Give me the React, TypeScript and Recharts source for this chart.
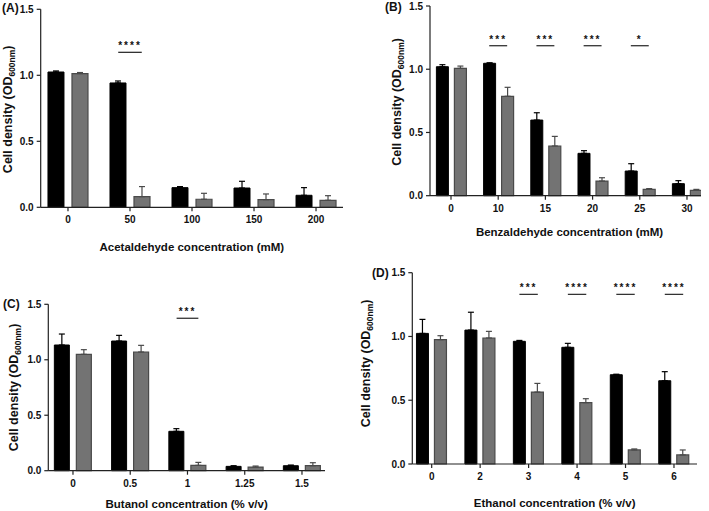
import { BarChart, Bar, XAxis, YAxis, ErrorBar, ReferenceLine } from "recharts";

// ---- data (OD600nm, mean + upper SD) ----
const acetLabels = ["0", "50", "100", "150", "200"];
const acetDark = [1.025, 0.942, 0.149, 0.146, 0.091];
const acetDarkSd = [0.008, 0.015, 0.008, 0.051, 0.058];
const acetLight = [1.013, 0.081, 0.061, 0.058, 0.053];
const acetLightSd = [0.008, 0.076, 0.045, 0.043, 0.035];
const acetSig = ["", "****", "", "", ""];
const acetSigLevel = 1.174;

const benzLabels = ["0", "10", "15", "20", "25", "30"];
const benzDark = [1.02, 1.047, 0.598, 0.335, 0.195, 0.095];
const benzDarkSd = [0.016, 0.004, 0.058, 0.021, 0.058, 0.024];
const benzLight = [1.007, 0.786, 0.393, 0.116, 0.05, 0.042];
const benzLightSd = [0.018, 0.071, 0.076, 0.026, 0.006, 0.008];
const benzSig = ["", "***", "***", "***", "*", ""];
const benzSigLevel = 1.186;

const butLabels = ["0", "0.5", "1", "1.25", "1.5"];
const butDark = [1.133, 1.169, 0.355, 0.039, 0.045];
const butDarkSd = [0.099, 0.051, 0.024, 0.006, 0.006];
const butLight = [1.049, 1.07, 0.048, 0.033, 0.045];
const butLightSd = [0.042, 0.06, 0.027, 0.009, 0.027];
const butSig = ["", "", "***", "", ""];
const butSigLevel = 1.374;

const ethLabels = ["0", "2", "3", "4", "5", "6"];
const ethDark = [1.024, 1.05, 0.962, 0.915, 0.7, 0.653];
const ethDarkSd = [0.11, 0.14, 0.007, 0.031, 0.004, 0.071];
const ethLight = [0.975, 0.988, 0.564, 0.481, 0.11, 0.071];
const ethLightSd = [0.031, 0.052, 0.068, 0.031, 0.008, 0.039];
const ethSig = ["", "", "***", "****", "****", "****"];
const ethSigLevel = 1.33;

const yTicks = [0, 0.5, 1, 1.5];

const FONT = "'Liberation Sans', Arial, Helvetica, sans-serif";
const AXIS = "#222";

function buildRows(dark: number[], darkSd: number[], light: number[], lightSd: number[]) {
  return dark.map((d, i) => ({
    idx: i,
    dark: d,
    darkErr: [0, darkSd[i]],
    light: light[i],
    lightErr: [0, lightSd[i]],
  }));
}

type PanelProps = {
  letter: string;
  xTitle: string;
  labels: string[];
  dark: number[];
  darkSd: number[];
  light: number[];
  lightSd: number[];
  sig: string[];
  sigLevel: number;
  left: number;
  top: number;
  width: number;
  height: number;
  plot: { l: number; t: number; b: number; r: number };
  domain: [number, number];
  barSize: number;
  barGap: number;
  yTitleDx: number;
  yTitleDy: number;
  xTitleDx: number;
  xTitleDy: number;
  letterPos: [number, number];
};

const Y_AXIS_W = 30;
const X_AXIS_H = 30;

function Panel(p: PanelProps) {
  const rows = buildRows(p.dark, p.darkSd, p.light, p.lightSd);
  const margin = {
    top: p.plot.t,
    left: p.plot.l - Y_AXIS_W,
    right: p.width - p.plot.r,
    bottom: p.height - p.plot.b - X_AXIS_H,
  };
  const ticks = p.labels.map((_, i) => i);

  const yLabel = (props: any) => {
    const vb = props.viewBox;
    const axisX = vb.x + vb.width;
    const cx = axisX + p.yTitleDx;
    const cy = p.plot.t + (p.plot.b - p.plot.t) / 2 + p.yTitleDy;
    return (
      <g>
        <text
          x={cx}
          y={cy}
          transform={`rotate(-90, ${cx}, ${cy})`}
          textAnchor="middle"
          fontFamily={FONT}
          fontWeight="bold"
          fontSize={12.5}
          fill="#111"
        >
          Cell density (OD
          <tspan dy={3} fontSize={8.5}>600nm</tspan>
          <tspan dy={-3}>)</tspan>
        </text>
        <text
          x={p.letterPos[0]}
          y={p.letterPos[1]}
          fontFamily={FONT}
          fontWeight="bold"
          fontSize={12}
          fill="#111"
        >
          {p.letter}
        </text>
      </g>
    );
  };

  const xLabel = (props: any) => {
    const vb = props.viewBox;
    return (
      <text
        x={vb.x + vb.width / 2 + p.xTitleDx}
        y={vb.y + p.xTitleDy}
        textAnchor="middle"
        dominantBaseline="central"
        fontFamily={FONT}
        fontWeight="bold"
        fontSize={11.5}
        fill="#111"
      >
        {p.xTitle}
      </text>
    );
  };

  return (
    <div style={{ position: "absolute", left: p.left, top: p.top }}>
      <BarChart
        width={p.width}
        height={p.height}
        data={rows}
        margin={margin}
        barSize={p.barSize}
        barGap={p.barGap}
      >
        <XAxis
          dataKey="idx"
          type="number"
          domain={p.domain}
          ticks={ticks}
          allowDataOverflow
          height={X_AXIS_H}
          tickFormatter={(v: number) => p.labels[v] ?? ""}
          tick={{ fontFamily: FONT, fontWeight: "bold", fontSize: 10, fill: "#111" }}
          tickSize={4}
          tickMargin={5}
          axisLine={{ stroke: AXIS, strokeWidth: 1.2 }}
          tickLine={{ stroke: AXIS, strokeWidth: 1.2 }}
          interval={0}
          label={xLabel}
        />
        <YAxis
          type="number"
          domain={[0, 1.5]}
          ticks={yTicks}
          width={Y_AXIS_W}
          tickFormatter={(v: number) => v.toFixed(1)}
          tick={{ fontFamily: FONT, fontWeight: "bold", fontSize: 10, fill: "#111" }}
          tickSize={4}
          tickMargin={3}
          axisLine={{ stroke: AXIS, strokeWidth: 1.2 }}
          tickLine={{ stroke: AXIS, strokeWidth: 1.2 }}
          interval={0}
          label={yLabel}
        />
        <Bar dataKey="dark" fill="#000" stroke="#000" strokeWidth={1} isAnimationActive={false}>
          <ErrorBar dataKey="darkErr" direction="y" width={3} stroke="#000" strokeWidth={1.2} />
        </Bar>
        <Bar dataKey="light" fill="#737373" stroke="#4a4a4a" strokeWidth={1.2} isAnimationActive={false}>
          <ErrorBar dataKey="lightErr" direction="y" width={3} stroke="#4a4a4a" strokeWidth={1.2} />
        </Bar>
        {p.sig.map((s, i) =>
          s ? (
            <ReferenceLine
              key={`sig-${i}`}
              segment={[
                { x: i - 0.19, y: p.sigLevel },
                { x: i + 0.19, y: p.sigLevel },
              ]}
              stroke="#333"
              strokeWidth={1.3}
              label={{
                value: s,
                position: "top",
                offset: 3,
                fontFamily: FONT,
                fontWeight: "bold",
                fontSize: 10,
                letterSpacing: 2,
                fill: "#111",
              }}
            />
          ) : null
        )}
      </BarChart>
    </div>
  );
}

export default function App() {
  return (
    <div style={{ position: "absolute", left: 0, top: 0, width: 709, height: 511, background: "#fff" }}>
      <Panel
        letter="(A)"
        xTitle="Acetaldehyde concentration (mM)"
        labels={acetLabels}
        dark={acetDark}
        darkSd={acetDarkSd}
        light={acetLight}
        lightSd={acetLightSd}
        sig={acetSig}
        sigLevel={acetSigLevel}
        left={0}
        top={0}
        width={354}
        height={255}
        plot={{ l: 40.7, t: 9.3, b: 207.3, r: 343 }}
        domain={[-0.44, 4.435]}
        barSize={16}
        barGap={8}
        yTitleDx={-29}
        yTitleDy={1}
        xTitleDx={0}
        xTitleDy={40}
        letterPos={[2, 12]}
      />
      <Panel
        letter="(B)"
        xTitle="Benzaldehyde concentration (mM)"
        labels={benzLabels}
        dark={benzDark}
        darkSd={benzDarkSd}
        light={benzLight}
        lightSd={benzLightSd}
        sig={benzSig}
        sigLevel={benzSigLevel}
        left={354}
        top={0}
        width={355}
        height={255}
        plot={{ l: 76, t: 6, b: 195.7, r: 347 }}
        domain={[-0.445, 5.297]}
        barSize={12}
        barGap={6}
        yTitleDx={-29}
        yTitleDy={1}
        xTitleDx={4}
        xTitleDy={36}
        letterPos={[31, 11]}
      />
      <Panel
        letter="(C)"
        xTitle="Butanol concentration (% v/v)"
        labels={butLabels}
        dark={butDark}
        darkSd={butDarkSd}
        light={butLight}
        lightSd={butLightSd}
        sig={butSig}
        sigLevel={butSigLevel}
        left={0}
        top={255}
        width={354}
        height={256}
        plot={{ l: 48.3, t: 49.3, b: 215.7, r: 325 }}
        domain={[-0.431, 4.402]}
        barSize={15}
        barGap={7}
        yTitleDx={-30}
        yTitleDy={0}
        xTitleDx={0}
        xTitleDy={33}
        letterPos={[3, 53]}
      />
      <Panel
        letter="(D)"
        xTitle="Ethanol concentration (% v/v)"
        labels={ethLabels}
        dark={ethDark}
        darkSd={ethDarkSd}
        light={ethLight}
        lightSd={ethLightSd}
        sig={ethSig}
        sigLevel={ethSigLevel}
        left={354}
        top={255}
        width={355}
        height={256}
        plot={{ l: 58.3, t: 17.7, b: 209, r: 343 }}
        domain={[-0.4, 5.475]}
        barSize={12}
        barGap={6}
        yTitleDx={-42}
        yTitleDy={-5}
        xTitleDx={0}
        xTitleDy={39}
        letterPos={[18, 22]}
      />
    </div>
  );
}
